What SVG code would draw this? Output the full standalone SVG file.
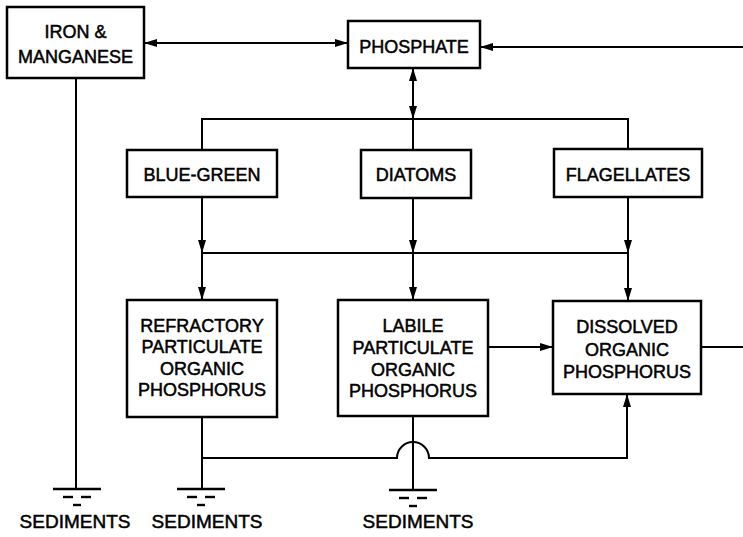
<svg xmlns="http://www.w3.org/2000/svg" xmlns:xlink="http://www.w3.org/1999/xlink" width="743" height="537" viewBox="0 0 743 537">
<style>
.box{fill:#fff;stroke:#000;stroke-width:2.5}
.lbl{font-family:"Liberation Sans",Arial,sans-serif;font-size:18px;fill:#000;stroke:#000;stroke-width:0.5;text-anchor:middle}
.sed{font-family:"Liberation Sans",Arial,sans-serif;font-size:19px;fill:#000;stroke:#000;stroke-width:0.5;text-anchor:middle}
.ln{fill:none;stroke:#000;stroke-width:2}
.ar{fill:none;stroke:#000;stroke-width:2;marker-end:url(#arr)}
</style>
<defs>
<marker id="arr" viewBox="0 0 13 8" refX="13" refY="4" markerWidth="13" markerHeight="8" markerUnits="userSpaceOnUse" orient="auto">
<path d="M0,0 L13,4 L0,8 z" fill="#000"/>
</marker>
<g id="ground">
<line x1="-24" y1="0" x2="24" y2="0" stroke="#000" stroke-width="2.4"/>
<line x1="-14" y1="8" x2="-4" y2="8" stroke="#000" stroke-width="2.4"/>
<line x1="4" y1="8" x2="14" y2="8" stroke="#000" stroke-width="2.4"/>
<line x1="-4" y1="16" x2="4" y2="16" stroke="#000" stroke-width="2.4"/>
</g>
</defs>
<rect width="743" height="537" fill="#fff"/>

<g id="connectors">
<path class="ar" d="M250,43 H144"/>
<path class="ar" d="M250,43 H348"/>
<path class="ar" d="M743,47 H480"/>
<path class="ar" d="M413,100 V68"/>
<path class="ar" d="M413,90 V119"/>
<path class="ln" d="M413,119 V150"/>
<path class="ln" d="M202,150 V119 H628 V149"/>
<path class="ar" d="M202,197 V253"/>
<path class="ar" d="M202,253 V300"/>
<path class="ar" d="M413,198 V253"/>
<path class="ar" d="M413,253 V300"/>
<path class="ar" d="M628,197 V253"/>
<path class="ar" d="M628,253 V301"/>
<path class="ln" d="M202,253 H628"/>
<path class="ar" d="M488,347 H553"/>
<path class="ln" d="M701,347 H743"/>
<path class="ln" d="M76,78 V489"/>
<path class="ln" d="M202,417 V489"/>
<path class="ln" d="M413,416 V490"/>
<path class="ar" d="M202,458 H397 A16,16 0 0 1 429,458 H627 V394"/>
<use xlink:href="#ground" x="77" y="489"/>
<use xlink:href="#ground" x="201" y="489"/>
<use xlink:href="#ground" x="413" y="490"/>
</g>

<g id="iron">
<rect class="box" x="7" y="7" width="137" height="71"/>
<text class="lbl" x="75.5" y="38">IRON &amp;</text>
<text class="lbl" x="75.5" y="63">MANGANESE</text>
</g>
<g id="phosphate">
<rect class="box" x="348" y="21" width="132" height="47"/>
<text class="lbl" x="414" y="53">PHOSPHATE</text>
</g>
<g id="bluegreen">
<rect class="box" x="127" y="150" width="150" height="47"/>
<text class="lbl" x="202" y="181">BLUE-GREEN</text>
</g>
<g id="diatoms">
<rect class="box" x="361" y="150" width="110" height="48"/>
<text class="lbl" x="416" y="181">DIATOMS</text>
</g>
<g id="flagellates">
<rect class="box" x="554" y="149" width="148" height="48"/>
<text class="lbl" x="628" y="181">FLAGELLATES</text>
</g>
<g id="refractory">
<rect class="box" x="127" y="300" width="150" height="117"/>
<text class="lbl" x="202" y="332">REFRACTORY</text>
<text class="lbl" x="202" y="353">PARTICULATE</text>
<text class="lbl" x="202" y="375">ORGANIC</text>
<text class="lbl" x="202" y="396">PHOSPHORUS</text>
</g>
<g id="labile">
<rect class="box" x="338" y="300" width="150" height="116"/>
<text class="lbl" x="413" y="332">LABILE</text>
<text class="lbl" x="413" y="354">PARTICULATE</text>
<text class="lbl" x="413" y="376">ORGANIC</text>
<text class="lbl" x="413" y="397">PHOSPHORUS</text>
</g>
<g id="dissolved">
<rect class="box" x="553" y="301" width="148" height="93"/>
<text class="lbl" x="627" y="333">DISSOLVED</text>
<text class="lbl" x="627" y="356">ORGANIC</text>
<text class="lbl" x="627" y="378">PHOSPHORUS</text>
</g>
<g id="sediments">
<text class="sed" x="75" y="528">SEDIMENTS</text>
<text class="sed" x="207" y="528">SEDIMENTS</text>
<text class="sed" x="418" y="528">SEDIMENTS</text>
</g>
</svg>
